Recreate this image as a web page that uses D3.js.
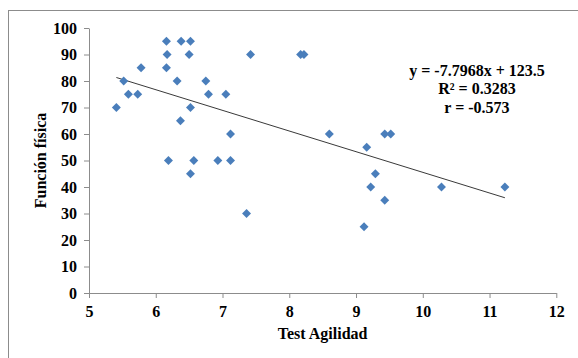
<!DOCTYPE html>
<html>
<head>
<meta charset="utf-8">
<script src="https://cdn.jsdelivr.net/npm/d3@7"></script>
<style>
  body { margin: 0; background: #fff; }
  text { font-family: "Liberation Serif", "Times New Roman", serif; font-weight: bold; fill: #000; }
</style>
</head>
<body>
<figure id="scatter" style="margin:0"></figure>
<script>
// data
const agilidad = [6.16, 6.38, 6.52, 6.17, 6.50, 7.42, 8.17, 8.22, 5.78, 6.16,
  5.52, 6.32, 6.75, 5.59, 5.73, 6.79, 7.05, 5.41, 6.52, 6.37,
  7.12, 6.19, 6.57, 6.93, 7.12, 6.52, 7.36, 8.60, 9.43, 9.52,
  9.16, 9.29, 9.22, 10.28, 11.23, 9.43, 9.12];
const funcion = [95, 95, 95, 90, 90, 90, 90, 90, 85, 85,
  80, 80, 80, 75, 75, 75, 75, 70, 70, 65,
  60, 50, 50, 50, 50, 45, 30, 60, 60, 60,
  55, 45, 40, 40, 40, 35, 25];
const xTicks = [5, 6, 7, 8, 9, 10, 11, 12];
const yTicks = [0, 10, 20, 30, 40, 50, 60, 70, 80, 90, 100];
const slope = -7.7968;
const intercept = 123.5;
const fitLabels = ["y = -7.7968x + 123.5", "R² = 0.3283", "r = -0.573"];

const width = 578, height = 358;
const margin = { top: 28, right: 21.7, bottom: 65, left: 89 };

const svg = d3.select("figure#scatter")
  .append("svg")
  .attr("width", width)
  .attr("height", height);

// chart area border (right/bottom edges fall outside the picture)
svg.append("rect")
  .attr("x", 8.5).attr("y", 10.5)
  .attr("width", 700).attr("height", 500)
  .attr("fill", "none")
  .attr("stroke", "#8c8c8c")
  .attr("stroke-width", 1);

const x = d3.scaleLinear()
  .domain([5, 12])
  .range([margin.left, width - margin.right]);

const y = d3.scaleLinear()
  .domain([0, 100])
  .range([height - margin.bottom, margin.top]);

// x axis
const gx = svg.append("g")
  .attr("transform", "translate(0," + (height - margin.bottom) + ")")
  .call(d3.axisBottom(x).tickValues(xTicks).tickSize(5).tickSizeOuter(0).tickPadding(7.5).tickFormat(d3.format("d")));

// y axis
const gy = svg.append("g")
  .attr("transform", "translate(" + margin.left + ",0)")
  .call(d3.axisLeft(y).tickValues(yTicks).tickSize(5).tickSizeOuter(0).tickPadding(7).tickFormat(d3.format("d")));

[gx, gy].forEach(g => {
  g.attr("font-family", null).attr("font-size", null);
  g.selectAll("path, line").attr("stroke", "#8c8c8c");
  g.selectAll("text")
    .style("font-family", "'Liberation Serif', serif")
    .style("font-weight", "bold")
    .style("font-size", "16px")
    .attr("fill", "#000");
});

// axis titles
svg.append("text")
  .attr("x", (x(5) + x(12)) / 2)
  .attr("y", 339)
  .attr("text-anchor", "middle")
  .style("font-size", "16px")
  .text("Test Agilidad");

svg.append("text")
  .attr("transform", "translate(45.5," + (y(0) + y(100)) / 2 + ") rotate(-90)")
  .attr("text-anchor", "middle")
  .style("font-size", "16px")
  .text("Función física");

// trend line over the data range
const xMin = d3.min(agilidad), xMax = d3.max(agilidad);
svg.append("line")
  .attr("x1", x(xMin)).attr("y1", y(slope * xMin + intercept))
  .attr("x2", x(xMax)).attr("y2", y(slope * xMax + intercept))
  .attr("stroke", "#222")
  .attr("stroke-width", 0.9);

// points
const diamond = d3.symbol().type(d3.symbolSquare).size(40);
svg.selectAll("path.pt")
  .data(agilidad.map((v, i) => [v, funcion[i]]))
  .enter()
  .append("path")
  .attr("class", "pt")
  .attr("d", diamond)
  .attr("transform", d => "translate(" + x(d[0]) + "," + y(d[1]) + ") rotate(45)")
  .attr("fill", "#4a7ebb");

// fit annotation
svg.append("g")
  .selectAll("text")
  .data(fitLabels)
  .enter()
  .append("text")
  .attr("x", 477)
  .attr("y", (d, i) => 75.5 + i * 18.5)
  .attr("text-anchor", "middle")
  .style("font-size", "16px")
  .text(d => d);
</script>
</body>
</html>
